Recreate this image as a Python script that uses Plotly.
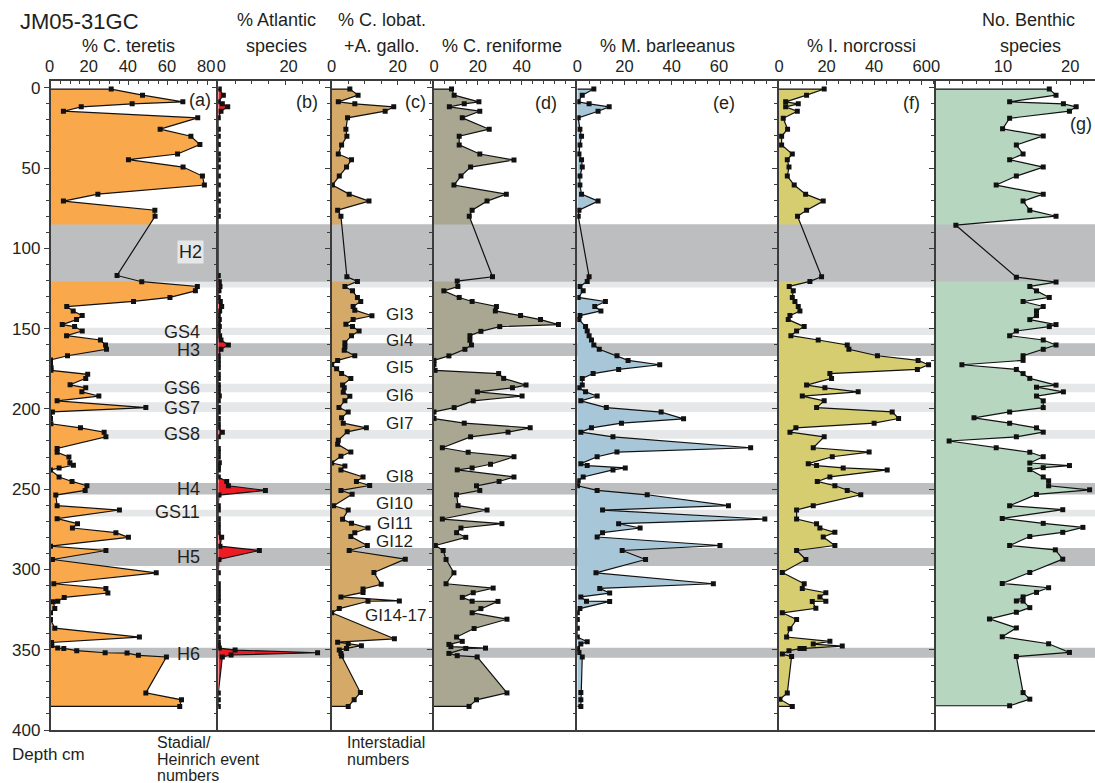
import plotly.graph_objects as go

W, H = 1095, 783

# ---------------- data: (depth cm, value) ----------------
teretis = [(0.8,31),(4.6,47),(8.75,67.6),(10,41.7),(11.9,15.7),(14.6,6.6),(18.75,75.2),(25.8,56),(30.2,71.7),
 (35.4,76.3),(41.25,64.9),(44.8,39.8),(49.4,67.7),(55,77.6),(60.6,78.6),(66.25,24.2),(70.6,6.6),(76.25,53.3),(80,53.4),
 (116.9,34),(120.8,46.6),(123.75,75),(126.5,74),(130.6,61),(133.1,42.4),(136.25,8.3),(139,11.6),(141.9,16.2),
 (144.4,13.3),(147.5,6),(148.75,12.3),(151.5,16.2),(154.4,8.2),(157.1,25.5),(160.2,28.1),(162.9,28.6),(166.9,8.7),
 (169.5,0),(172,0),(174.4,0.3),(176,0.2),(178.5,19),(181,18),(185,10),(186.9,18),(189.4,16),(192,24.7),(195,3.4),
 (199.2,48.7),(201.9,1),(206,0),(209.3,0.2),(211.8,15.3),(214.5,27.4),(217.4,28.3),(224.6,3.4),(227,3.4),(230,9.4),
 (233.5,9.9),(235.1,11.7),(236.8,4.4),(238,0),(242.4,4.4),(245.2,11),(247.9,18.6),(250.8,17.7),(253.7,2.7),
 (260.3,3.4),(263,35.2),(268.4,3.4),(271.5,13.8),(274.2,11.2),(277.1,33.4),(280,39.8),(285.5,0),(288.2,28.3),
 (293.8,1),(302.1,54),(308.9,1.7),(311.8,28.3),(314.7,29.3),(317.4,7),(319.8,3.7),(320.2,1.4),(324.4,2.2),(327,0),
 (331.2,0),(336.6,2.2),(342.1,45.4),(345.5,0.5),(347.3,0.7),(349,3.7),(349.2,6.8),(350.6,13.4),(351.9,27.9),
 (352.1,39.1),(353.5,44.9),(354.5,59.2),(376.9,48.7),(381.2,66.9),(385.3,66)]

atlantic = [(0.8,0.3),(4.6,1.5),(8.75,0),(10,1.2),(11.9,2.8),(14.6,0.8),(18.75,0),(25.8,0),(30.2,0),(35.4,0),
 (41.25,0),(44.8,0),(49.4,0),(55,0),(60.6,0),(66.25,0),(70.6,0),(76.25,0),(80,0),(116.9,0),(120.8,0.3),(123.75,0.5),
 (126.5,0.2),(130.6,0),(133.1,0.6),(136.25,1),(139,0.4),(141.9,0),(144.4,0.3),(147.5,0),(148.75,0.3),(151.5,0),
 (154.4,0.4),(157.1,0.8),(160.2,3),(162.9,0.8),(166.9,0),(169.5,0),(172,0),(174.4,0),(178.5,0),(181,0),(185,0),
 (186.9,0),(189.4,0),(192,0.3),(195,0),(199.2,0),(201.9,0),(206,0),(209.3,0),(211.8,0),(214.5,1.2),(217.4,0),
 (224.6,0),(227,0),(230,0),(233.5,0.3),(235.1,0),(236.8,0),(238,0),(242.4,0),(245.2,2.5),(247.9,3),(250.8,14),
 (253.7,0.2),(260.3,0),(263,0),(268.4,0),(271.5,0),(274.2,0),(277.1,0),(280,1),(285.5,0.5),(288.2,12.2),(293.8,0.2),
 (302.1,0),(308.9,0),(311.8,0),(314.7,0),(317.4,0),(319.8,0),(324.4,0),(327,0),(331.2,0),(336.6,0),(342.1,0),
 (345.5,0),(347.3,0),(349,0.3),(350.2,5),(351.9,29.5),(353.3,3.8),(354.5,1.2),(376.9,0),(381.2,0),(385.3,0)]

lobatula = [(0.8,5.5),(4.6,8),(8.75,2),(10,7),(11.9,18.8),(14.6,16.2),(18.75,4.8),(25.8,4.3),(30.2,4.6),(35.6,3),
 (41.25,2),(44.8,6),(49.4,4.5),(55,2.3),(60.6,0.2),(66.25,5.3),(70.6,11.3),(76.25,1.8),(80,2.8),(117.7,4.6),
 (120.6,7.8),(123.75,4),(126.5,6.3),(130.6,7.8),(133.1,8.8),(136.25,6.5),(138.5,7),(142,12.2),(144.4,6.5),
 (147.3,4.3),(148.75,6.3),(151.5,8.3),(154.4,6),(158.75,4),(161.5,4),(163.5,3.8),(166.9,7),(169.8,1.8),(172.3,0),
 (175,1.5),(178,3),(181,5.8),(185.2,3.3),(186.9,3.8),(189.7,3.5),(192.1,5.5),(195,4),(199.2,2.2),(201.9,5),
 (205.6,3),(208.9,3.5),(211.8,10.5),(214.3,4.7),(219.6,2),(222.1,1.8),(226.9,5.8),(229.5,2.8),(233.7,0),(235.5,4),
 (238,2.8),(242.4,9.5),(245.2,7.5),(247.7,11.5),(250.8,2.8),(253.1,6.2),(260.3,0.6),(263,5),(268.8,3.3),(271.3,6),
 (274.2,11),(277.1,7),(279.5,5.8),(285.1,10.8),(288.2,5.3),(293.6,22.3),(301.9,12.8),(309.3,15),(312.2,9.5),
 (314.3,9.5),(317.1,2.8),(319.6,20.5),(319.8,11),(324.4,2.3),(327,0),(343.2,19),(345.3,1.8),(346.2,5),(347.5,9),
 (349.2,4.5),(350.2,2.3),(352.3,2.8),(353.9,3),(376.7,8.7),(381.2,6.8),(385.3,5)]

reniforme = [(0.8,8),(4.6,9.2),(8.75,20.5),(10,13.8),(11.9,7),(14.6,20.9),(18.75,12.9),(25.8,25.2),(30.2,11.5),
 (35.6,11.5),(41.25,20.9),(45,36.5),(49.4,16.7),(55,12.3),(60.6,9.1),(66.25,33),(70.6,24.2),(76.25,17.4),(80,16.1),
 (117.7,26.7),(120.4,10.6),(123.75,10.9),(126.5,4.5),(130.6,11.5),(133.1,17.4),(136.25,28.5),(139,28),(141.9,39.5),
 (144.4,48.6),(147.5,56.8),(148.75,30),(151.7,21.4),(154.4,16.4),(157.3,16.4),(160.2,17.1),(162.9,14.1),(167,6.8),
 (169.8,0),(172.3,0),(176,0.5),(178,29.5),(181,31.8),(185.2,42),(186.9,35.8),(189.4,19.8),(192,40.2),(195,17.9),
 (199.2,9.2),(201.9,0),(206,0),(208.9,13.8),(211.8,43.9),(214.5,33.8),(217.4,16.7),(224.2,3.8),(227,15.6),
 (229.8,36.5),(234.5,25.8),(236.8,17.4),(238,10.6),(242.4,36.5),(245.2,29.7),(247.9,19.4),(250.8,20.9),(253.5,10.3),
 (260.3,11),(263,24.2),(268.6,3.8),(271.5,31),(274.2,12.3),(277.1,10.3),(280,14.5),(285.1,0.6),(288.2,4.2),
 (293.8,5.5),(302.1,9.1),(308.9,5.5),(311.6,27),(314.5,17.9),(317.4,12.9),(319.8,17.4),(319.9,29.2),(324.4,21.4),
 (327,17.4),(331,33.3),(336.8,18.3),(342.1,10.3),(344.8,12.9),(346.7,6.8),(348.1,7.7),(349,23.5),(349.2,14.5),
 (352.3,6.8),(353.7,10.6),(354.5,19.7),(376.9,33.3),(381.2,19.4),(385.3,16)]

barleeanus = [(0.8,7),(4.6,2.1),(8.75,0.4),(10,5),(11.9,13.5),(14.6,8.8),(18.75,0.4),(25.8,1.1),(30.2,1.8),
 (35.6,1.1),(41.25,0.7),(44.8,1.8),(49.4,2.1),(55,1.1),(60.6,1.1),(66.25,1.8),(70.6,8.8),(76.25,0.7),(80,0.4),
 (117.7,5),(120.6,4.2),(123.75,1.1),(126.5,2.5),(130.6,0.4),(133.1,11.9),(136.25,7.4),(139,10),(141.9,1.1),
 (144.4,0.7),(148.75,3.5),(151.5,4.2),(154.4,5),(157.1,6),(160.2,7),(162.9,9.3),(166.9,16.8),(169.8,21.5),
 (172.5,34.9),(175.4,17.5),(178,6.7),(181,2.1),(185.2,2.1),(186.9,0.7),(189.4,3.5),(192,8.4),(195,1.5),(199.2,12.3),
 (202,35.5),(206.2,45),(208.9,18.7),(211.8,6),(214.5,1.5),(217.4,15.1),(224.2,73.4),(226.9,16.8),(229.8,8.4),
 (234.1,1.5),(235.3,4.2),(236.8,20.3),(238,15.1),(242.4,2.5),(244.8,0.4),(247.9,0.1),(250.8,8.4),(253.5,29.6),
 (260.3,64),(263,10.7),(268.6,79.4),(271.5,17.5),(274.2,26.6),(277.1,10.7),(279.8,8.4),(285.1,60.4),(288.2,19),
 (293.8,28.9),(302.1,7.9),(308.9,57.6),(311.8,9.5),(314.7,13.7),(317.1,1.5),(319.8,3.9),(319.9,13.7),(324.4,1.1),
 (327,0),(331.2,0),(336.6,0),(342.1,0),(345,4.2),(346.5,1.5),(349.2,0.1),(351.7,0.7),(354.5,2.1),(376.7,1.5),
 (381.2,1.5),(385.3,1.5)]

norcrossi = [(0.8,19),(4.6,11.6),(8.75,2.8),(10,8.1),(11.9,2.8),(14.6,7.7),(19,1.8),(25.8,3.6),(30.2,1.1),(35.6,1.1),
 (41.25,5.6),(44.8,3.5),(49.4,4.2),(55,3.5),(60.6,6.4),(66.25,11.2),(70.6,18.6),(76.25,11.6),(80,7.8),(117.7,17.9),
 (120.6,13),(123.75,4.3),(126.5,6),(130.6,5.6),(133.1,6.7),(136.25,8.1),(139,8.8),(141.9,4.6),(144.4,3.9),
 (148.75,10.6),(151.5,7.4),(154.4,5),(157.1,16.5),(160.2,28.7),(162.9,29.4),(166.9,41.4),(169.8,58.5),(172.5,62.9),
 (175.4,58.2),(178,21.4),(181,22.1),(185.2,11.6),(186.9,19.3),(189.4,33.3),(192,9.8),(195,19),(199.2,15.8),
 (201.9,47.6),(206,50.3),(208.9,40),(211.8,7.1),(214.5,4.6),(217.4,19),(224.2,14.4),(226.9,37.9),(229.8,22.4),
 (234.1,12.3),(235.3,15.8),(236.8,27),(238,45.5),(242.4,21.4),(245.2,16.1),(247.9,23.5),(250.8,28.7),(253.5,34.4),
 (260.3,14.4),(263,7.4),(268.6,7.4),(271.5,15.8),(274.2,17.2),(276.9,23.5),(279.8,18.6),(285.1,23.5),(288.2,7.4),
 (293.8,11.3),(301.9,1.4),(308.9,10.6),(311.8,9.8),(314.5,19.7),(317.1,17.2),(319.8,19.7),(319.9,14),(324.2,15.5),
 (327,1.4),(331.2,7.4),(337,4.6),(342.1,3.2),(344.8,21.4),(346.5,14.4),(347.7,26.6),(349.2,10.6),(349.3,8.8),
 (350.6,4.2),(352.7,1.4),(354.3,5.3),(376.9,3.5),(380.8,0.4),(385.3,5.6)]

benthic = [(0.8,16.9),(4.6,17.9),(8.75,11),(10,19),(11.9,20.9),(14.6,19.9),(19,11),(25.6,9.95),(30,16),(35.6,12),
 (41.25,13),(44.8,11),(49.4,16),(55,12),(60.6,9),(66.25,16),(70.6,13),(76.25,14),(80,17.9),(85.6,3),(118,12),
 (121,17.9),(123.75,14),(126.5,15),(130.6,16.9),(133.1,13),(136.25,16),(139,15),(141.9,15),(144.4,14),(147.5,17.9),
 (148.75,16.9),(151.5,12),(154.4,11),(157.1,16),(160.2,17.9),(162.9,16),(166.9,13),(169.8,13),(172.5,3.9),
 (175.4,12),(178,13),(181,14),(185.2,17.9),(186.5,15),(189.4,19),(192,15),(195,16),(199.2,16),(201.9,11),
 (205.6,5.7),(208.9,11),(211.8,15),(214.5,16),(217.4,12),(220,2),(224.2,9),(227,14),(229.8,16),(233.7,14),
 (235.3,19.9),(236.6,16),(237.8,14),(242.4,16),(244.8,16.8),(247.9,16.8),(250.4,22.9),(253.3,15),(260.3,11),
 (262.8,18.9),(268.2,9.9),(271.3,16),(273.8,21.9),(276.9,18.9),(279.5,14),(285.1,11),(287.8,17.8),(293.6,18.9),
 (301.9,14),(308.7,9.9),(311.4,16.8),(314.3,15),(317.1,13),(319.6,12),(319.7,13),(323.8,14),(326.7,12),(330.8,8),
 (336.4,12),(341.9,9.9),(346.3,16.8),(351.7,19.9),(354.3,12),(376.7,13),(380.8,14),(384.9,11)]

# event bands (depth cm)
dark_bands = [(85.2, 120.6), (159.2, 167.1), (246.1, 253.3), (286.6, 297.9), (348.8, 355.0)]
light_bands = [(120.6, 124.4), (149.4, 154.0), (184.4, 189.6), (195.9, 201.9), (213.2, 218.6), (262.8, 267.1)]
H2_band = dark_bands[0]

stadial_labels = [("GS4", 152), ("H3", 163.5), ("GS6", 187.3), ("GS7", 199.4), ("GS8", 215.9),
                  ("H4", 250.2), ("GS11", 264.5), ("H5", 292.4), ("H6", 352.7)]
interstadial_labels = [("GI3", 141), ("GI4", 157.7), ("GI5", 174), ("GI6", 191.5), ("GI7", 209.3),
                       ("GI8", 242.4), ("GI10", 258.9), ("GI11", 271.6), ("GI12", 282.8)]

# ---------------- layout constants ----------------
DARK = "#BDBEC0"
LIGHT = "#E6E7E8"
AX = "#3C3C3C"
TXT = "#231F20"
FONT = "Liberation Sans, Arial, sans-serif"
TOP_PX, BOT_PX = 80.7, 730.0
YR = [400, -4.4]

panels = [
    dict(data=teretis, color="#F9A94B", left=50.5, right=218.3, xmax=85.7, tv=[0, 20, 40, 60, 80], minor=5, shift=-1, letter="(a)", lx=213, ly=7.7),
    dict(data=atlantic, color="#ED1C24", left=218.3, right=331.7, xmax=33.7, tv=[0, 20], minor=5, shift=3, letter="(b)", lx=320, ly=8.8),
    dict(data=lobatula, color="#D5AA68", left=331.7, right=434.0, xmax=31.0, tv=[0, 20], minor=5, shift=0, letter="(c)", lx=428, ly=8.8),
    dict(data=reniforme, color="#A9A791", left=434.0, right=577.3, xmax=65.4, tv=[0, 20, 40], minor=5, shift=0, letter="(d)", lx=559, ly=9.8),
    dict(data=barleeanus, color="#A7C6D8", left=577.3, right=779.0, xmax=85.4, tv=[0, 20, 40, 60], minor=5, shift=0, letter="(e)", lx=737, ly=9.8),
    dict(data=norcrossi, color="#D6CC70", left=779.0, right=935.7, xmax=65.9, tv=[0, 20, 40, 60], minor=5, shift=0, letter="(f)", lx=922, ly=9.8),
    dict(data=benthic, color="#B6D6C0", left=935.7, right=1095.0, xmax=23.7, tv=[0, 10, 20], minor=2, shift=0, letter="(g)", lx=1094, ly=22.3),
]

fig = go.Figure()
layout_axes = {}
ydom = [1 - BOT_PX / H, 1 - TOP_PX / H]

for i, p in enumerate(panels):
    n = "" if i == 0 else str(i + 1)
    xa, ya = "x" + n, "y" + n
    depths = [d for d, v in p["data"]]
    vals = [v for d, v in p["data"]]
    # fill
    fig.add_trace(go.Scatter(x=vals, y=depths, mode="none", fill="tozerox", fillcolor=p["color"],
                             xaxis=xa, yaxis=ya, hoverinfo="skip", showlegend=False))
    # H2 band covers the fill
    h0, h1 = H2_band
    fig.add_trace(go.Scatter(x=[0, p["xmax"], p["xmax"], 0, 0], y=[h0, h0, h1, h1, h0], mode="none",
                             fill="toself", fillcolor=DARK, xaxis=xa, yaxis=ya, hoverinfo="skip", showlegend=False))
    # outline
    fig.add_trace(go.Scatter(x=[0] + vals + [0], y=[depths[0]] + depths + [depths[-1]], mode="lines",
                             line=dict(color="#111111", width=1.2), xaxis=xa, yaxis=ya, showlegend=False))
    fig.add_trace(go.Scatter(x=vals, y=depths, mode="markers",
                             marker=dict(symbol="square", size=5, color="#111111"),
                             xaxis=xa, yaxis=ya, showlegend=False))

    layout_axes["xaxis" + n] = dict(
        domain=[p["left"] / W, p["right"] / W], range=[0, p["xmax"]], side="top", anchor=ya,
        showline=True, linecolor=AX, linewidth=1.5, mirror=True, showgrid=False, zeroline=False,
        ticks="inside", ticklen=5, tickwidth=1, tickcolor=AX, automargin=False, ticklabelshift=p["shift"],
        tickmode="array", tickvals=p["tv"], ticktext=[str(t) for t in p["tv"]],
        minor=dict(tickmode="linear", tick0=0, dtick=p["minor"], ticks="inside", ticklen=4, tickcolor=AX, tickwidth=1),
        tickfont=dict(size=16.5, color=TXT, family=FONT), fixedrange=True)
    layout_axes["yaxis" + n] = dict(
        domain=ydom, range=YR, anchor=xa, showline=True, linecolor=AX, linewidth=1.5, automargin=False,
        showgrid=False, zeroline=False, ticks="outside", ticklen=5, tickwidth=1, tickcolor=AX,
        tickmode="linear", tick0=0, dtick=50,
        minor=dict(tickmode="linear", tick0=0, dtick=10, ticks="outside", ticklen=3, tickcolor=AX, tickwidth=1),
        showticklabels=(i == 0), tickfont=dict(size=17, color=TXT, family=FONT), fixedrange=True)

shapes = []
for y0, y1 in light_bands:
    shapes.append(dict(type="rect", xref="paper", yref="y", x0=50.5 / W, x1=1, y0=y0, y1=y1,
                       fillcolor=LIGHT, line=dict(width=0), layer="below"))
for y0, y1 in dark_bands:
    shapes.append(dict(type="rect", xref="paper", yref="y", x0=50.5 / W, x1=1, y0=y0, y1=y1,
                       fillcolor=DARK, line=dict(width=0), layer="below"))

ann = []
def txt(text, xpx, ypx=None, ydepth=None, size=17, xanchor="center", yanchor="middle", **kw):
    d = dict(text=text, xref="paper", x=xpx / W, showarrow=False, xanchor=xanchor, yanchor=yanchor,
             font=dict(size=size, color=TXT, family=FONT))
    if ydepth is not None:
        d.update(yref="y", y=ydepth)
    else:
        d.update(yref="paper", y=1 - ypx / H)
    d.update(kw)
    ann.append(d)

# headers
txt("JM05-31GC", 79, 21, size=22)
txt("% C. teretis", 128, 46, size=18)
txt("% Atlantic", 276, 20, size=18)
txt("species", 276, 46, size=18)
txt("% C. lobat.", 382, 20, size=18)
txt("+A. gallo.", 382, 46, size=18)
txt("% C. reniforme", 502, 46, size=18)
txt("% M. barleeanus", 667, 46, size=18)
txt("% I. norcrossi", 861, 46, size=18)
txt("No. Benthic", 1028, 20, size=18)
txt("species", 1030, 46, size=18)

# bottom labels
txt("Depth cm", 10, 754, xanchor="left")
txt("Stadial/", 155, 742, size=16, xanchor="left")
txt("Heinrich event", 155, 759, size=16, xanchor="left")
txt("numbers", 155, 775, size=16, xanchor="left")
txt("Interstadial", 345, 742, size=16, xanchor="left")
txt("numbers", 345, 759, size=16, xanchor="left")

# panel letters
for p in panels:
    txt(p["letter"], p["lx"], ydepth=p["ly"], size=18, xanchor="right")

# event labels
txt("H2", 190, ydepth=102, size=18, bgcolor=LIGHT, borderpad=1)
for lab, d in stadial_labels:
    txt(lab, 202, ydepth=d, size=18, xanchor="right")
for lab, d in interstadial_labels:
    txt(lab, 415, ydepth=d, size=17, xanchor="right")
txt("GI14-17", 428, ydepth=328.5, size=17, xanchor="right")

fig.update_layout(width=W, height=H, margin=dict(l=0, r=0, t=0, b=0),
                  paper_bgcolor="white", plot_bgcolor="rgba(0,0,0,0)",
                  showlegend=False, shapes=shapes, annotations=ann,
                  font=dict(family=FONT, color=TXT), **layout_axes)

fig.write_html("out.html", config={"displayModeBar": False},
               post_script="document.body.style.margin='0px';document.body.style.overflow='hidden';")
